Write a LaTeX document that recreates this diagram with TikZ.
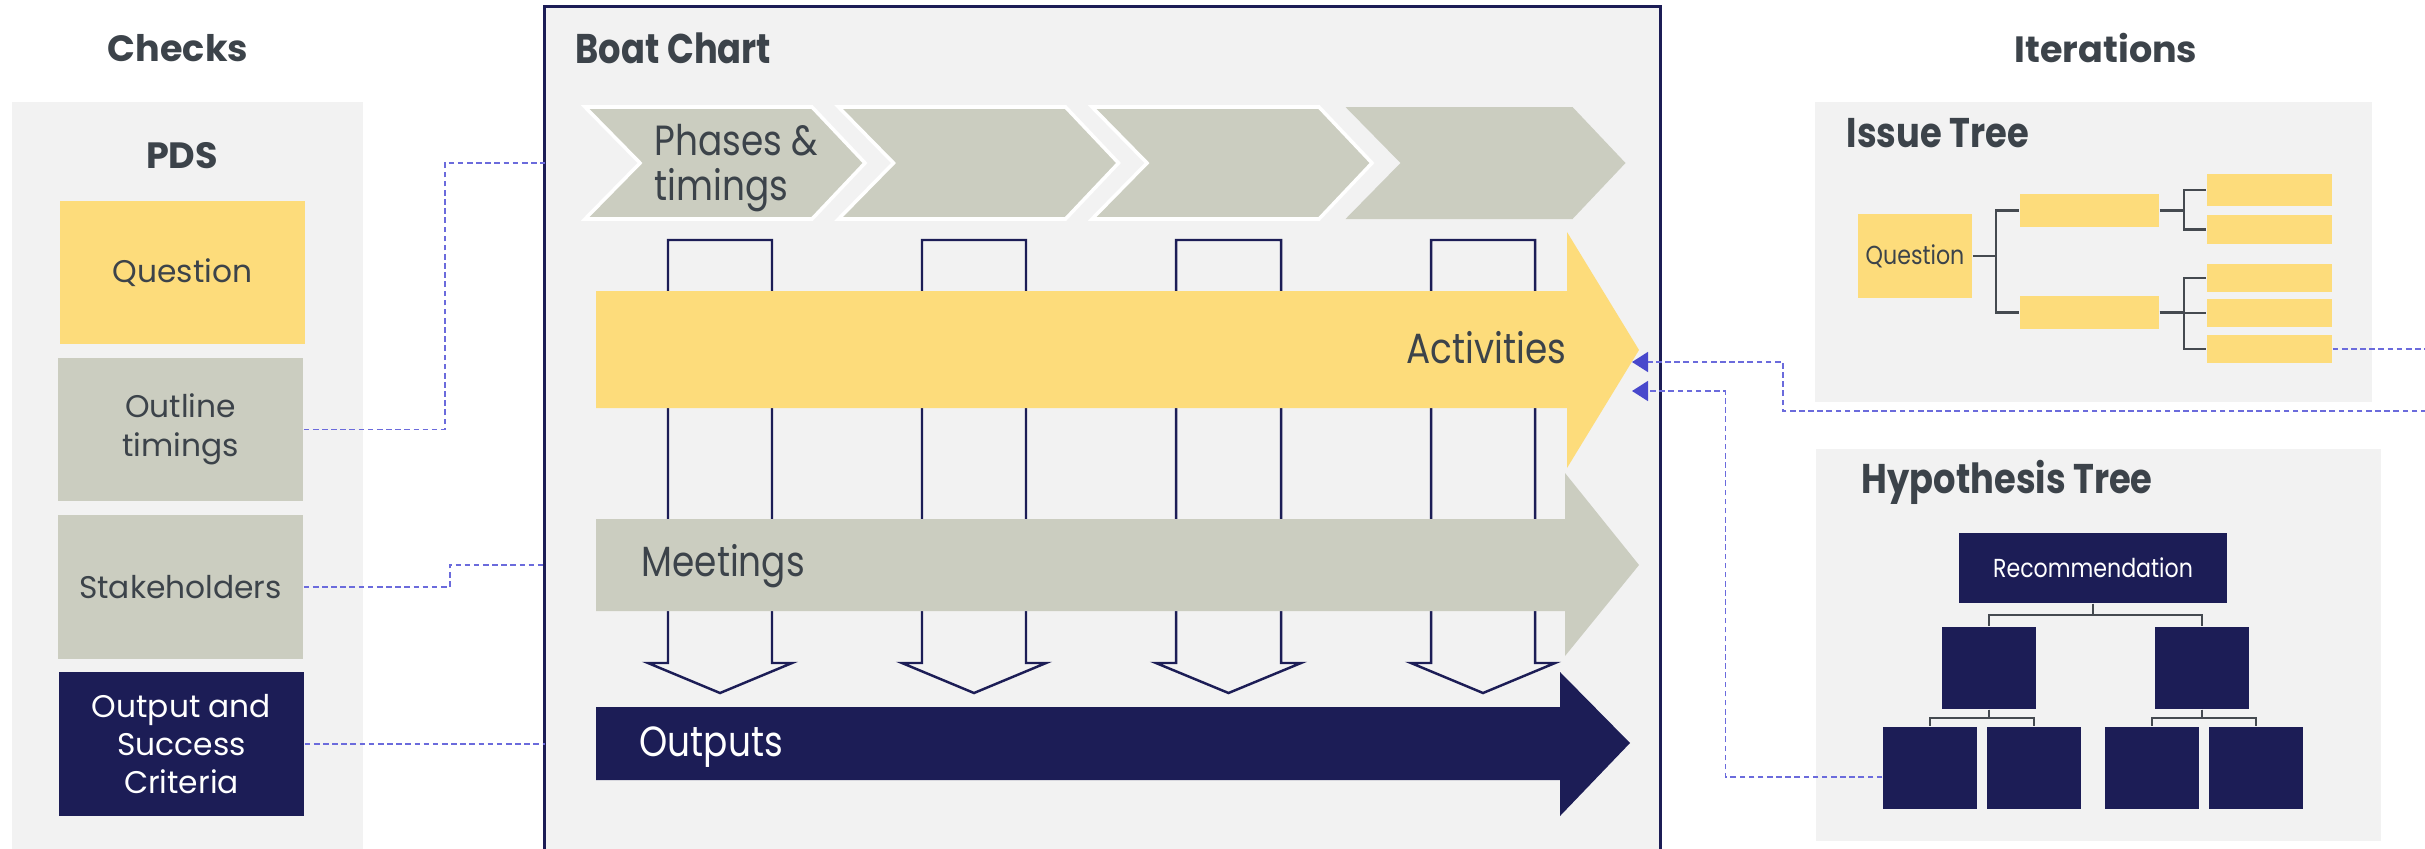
\documentclass[tikz,border=0pt]{standalone}
\usepackage{fontspec}
\setmainfont{Poppins}
\newfontfamily\condfont[FakeStretch=0.85]{Poppins}
\usepackage{tikz}
\usetikzlibrary{arrows.meta}
\definecolor{navy}{HTML}{1C1D56}
\definecolor{sun}{HTML}{FDDC7B}
\definecolor{sage}{HTML}{CBCDC0}
\definecolor{panel}{HTML}{F2F2F2}
\definecolor{ink}{HTML}{3C434A}
\definecolor{treeline}{HTML}{454A50}
\definecolor{linkblue}{HTML}{6B6BDC}
\definecolor{arrowblue}{HTML}{4848CC}

\begin{document}
\begin{tikzpicture}[x=0.01cm, y=-0.01cm, >={Triangle[length=0.16cm, width=0.2cm, color=arrowblue]}]
    \tikzstyle{title} = [font=\bfseries\fontsize{10.4}{12}\selectfont, text=ink, inner sep=0]
    \tikzstyle{ctitle} = [font=\condfont\bfseries\fontsize{11.8}{14}\selectfont, text=ink, inner sep=0]
    \tikzstyle{pdsbox} = [minimum width=2.45cm, minimum height=1.43cm, inner sep=0, align=center, font=\fontsize{8.9}{11.2}\selectfont]
    \tikzstyle{bigtext} = [font=\condfont\fontsize{12}{13}\selectfont, inner sep=0]
    \tikzstyle{issuebox} = [fill=sun, inner sep=0, minimum width=1.25cm]
    \tikzstyle{hypbox} = [fill=navy, inner sep=0, minimum width=0.94cm, minimum height=0.82cm]
    \tikzstyle{branch} = [draw=treeline, line width=0.6pt]
    \tikzstyle{link} = [draw=linkblue, line width=0.45pt, dash pattern=on 1.6pt off 1pt]
    \tikzstyle{boatcol} = [draw=navy, line width=0.7pt]
    \useasboundingbox (0,0) rectangle (2425,848);
    \fill[white] (0,0) rectangle (2425,848);
    % panels
    \fill[panel] (12,102) rectangle (363,870);
    \node[draw=navy, fill=panel, line width=0.8pt, minimum width=11.15cm, minimum height=8.66cm, inner sep=0, outer sep=0] (boat) at (1102.5,440) {};
    \fill[panel] (1815,102) rectangle (2372,402);
    \fill[panel] (1816,449) rectangle (2381,841);
    % titles
    \node[title] (checks) at (178,48) {Checks};
    \node[title] (pds) at (182,156) {PDS};
    \node[title] (iter) at (2106,48) {Iterations};
    \node[ctitle, anchor=west] (boattitle) at (575,48) {Boat Chart};
    \node[ctitle, anchor=west] (issuetitle) at (1846,133) {Issue Tree};
    \node[ctitle, anchor=base west] (hyptitle) at (1861,493) {Hypothesis Tree};
    % PDS
    \node[pdsbox, fill=sun, text=ink] (q) at (182.5,272.5) {Question};
    \node[pdsbox, fill=sage, text=ink] (ot) at (180.5,429.5) {Outline\\timings};
    \node[pdsbox, fill=sage, text=ink] (sh) at (180.5,587) {Stakeholders};
    \node[pdsbox, fill=navy, text=white, font=\fontsize{8.9}{10.8}\selectfont] (osc) at (181.5,744) {Output and\\Success\\Criteria};
    % phases
    \filldraw[fill=sage, draw=white, line width=1pt] (585,107) -- (812,107) -- (865,163) -- (812,219) -- (585,219) -- (640,163) -- cycle;
    \filldraw[fill=sage, draw=white, line width=1pt] (838.5,107) -- (1065.5,107) -- (1118.5,163) -- (1065.5,219) -- (838.5,219) -- (893.5,163) -- cycle;
    \filldraw[fill=sage, draw=white, line width=1pt] (1092,107) -- (1319,107) -- (1372,163) -- (1319,219) -- (1092,219) -- (1147,163) -- cycle;
    \fill[sage] (1345.5,107) -- (1572.5,107) -- (1625.5,163) -- (1572.5,219) -- (1345.5,219) -- (1400.5,163) -- cycle;
    \node[bigtext, anchor=west, align=left, text=ink] (phase) at (654,168) {Phases \&\\timings};
    % columns
    \draw[boatcol] (668,240) -- (772,240) -- (772,663) -- (792,663) -- (720,693) -- (648,663) -- (668,663) -- cycle;
    \draw[boatcol] (922,240) -- (1026,240) -- (1026,663) -- (1046,663) -- (974,693) -- (902,663) -- (922,663) -- cycle;
    \draw[boatcol] (1176,240) -- (1281,240) -- (1281,663) -- (1301,663) -- (1228.5,693) -- (1156,663) -- (1176,663) -- cycle;
    \draw[boatcol] (1431,240) -- (1535,240) -- (1535,663) -- (1555,663) -- (1483,693) -- (1411,663) -- (1431,663) -- cycle;
    % streams
    \fill[sun] (596,291) -- (1567,291) -- (1567,232) -- (1639,350) -- (1567,468) -- (1567,408) -- (596,408) -- cycle;
    \fill[sage] (596,519) -- (1565,519) -- (1565,473) -- (1639,565) -- (1565,656) -- (1565,611) -- (596,611) -- cycle;
    \fill[navy] (596,707) -- (1560,707) -- (1560,672) -- (1630,743) -- (1560,816) -- (1560,780) -- (596,780) -- cycle;
    \coordinate (actin1) at (1632,362);
    \coordinate (actin2) at (1632,391);
    \node[bigtext, anchor=base east, text=ink] (act) at (1567,363) {Activities};
    \node[bigtext, anchor=base west, text=ink] (meet) at (641,576) {Meetings};
    \node[bigtext, anchor=base west, text=white] (outp) at (639,756) {Outputs};
    % issue tree
    \node[issuebox, minimum width=1.14cm, minimum height=0.84cm, text=ink, font=\condfont\fontsize{7.4}{9}\selectfont] (iq) at (1915,256) {Question};
    \node[issuebox, minimum width=1.39cm, minimum height=0.33cm] (ia) at (2089.5,210.5) {};
    \node[issuebox, minimum width=1.39cm, minimum height=0.33cm] (ib) at (2089.5,312.5) {};
    \node[issuebox, minimum height=0.32cm] (i1) at (2269.5,190) {};
    \node[issuebox, minimum height=0.29cm] (i2) at (2269.5,229.5) {};
    \node[issuebox, minimum height=0.28cm] (i3) at (2269.5,278) {};
    \node[issuebox, minimum height=0.28cm] (i4) at (2269.5,313) {};
    \node[issuebox, minimum height=0.28cm] (i5) at (2269.5,349) {};
    \draw[branch] (iq.east) -- ++(23,0) |- (ia.west);
    \draw[branch] (iq.east) -- ++(23,0) |- (ib.west);
    \draw[branch] (ia.east) -- ++(24,0) |- (i1.west);
    \draw[branch] (ia.east) -- ++(24,0) |- (i2.west);
    \draw[branch] (ib.east) -- ++(24,0) |- (i3.west);
    \draw[branch] (ib.east) -- ++(24,0) |- (i4.west);
    \draw[branch] (ib.east) -- ++(24,0) |- (i5.west);
    % hypothesis tree
    \node[hypbox, minimum width=2.68cm, minimum height=0.70cm, text=white, font=\condfont\fontsize{7.4}{9}\selectfont] (hr) at (2093,568) {Recommendation};
    \node[hypbox] (hleft) at (1989,668) {};
    \node[hypbox] (hright) at (2202,668) {};
    \node[hypbox] (h1) at (1930,768) {};
    \node[hypbox] (h2) at (2034,768) {};
    \node[hypbox] (h3) at (2152,768) {};
    \node[hypbox] (h4) at (2256,768) {};
    \draw[branch] (hr.south) -- ++(0,11) -| (hleft.north);
    \draw[branch] (hr.south) -- ++(0,11) -| (hright.north);
    \draw[branch] (hleft.south) -- ++(0,8) -| (h1.north);
    \draw[branch] (hleft.south) -- ++(0,8) -| (h2.north);
    \draw[branch] (hright.south) -- ++(0,8) -| (h3.north);
    \draw[branch] (hright.south) -- ++(0,8) -| (h4.north);
    % links
    \draw[link] (ot.east) -- ++(141,0) |- (boat.west |- 0,163);
    \draw[link] (sh.east) -- ++(146,0) |- (boat.west |- 0,565);
    \draw[link] (osc.east) -- (boat.west |- osc.east);
    \draw[link, ->] (i5.east) -- (2440,349) -- (2440,411) -- (1783,411) -- (1783,362) -- (actin1);
    \draw[link, ->] ([yshift=-0.09cm]h1.west) -- ++(-157,0) |- (actin2);
\end{tikzpicture}
\end{document}
